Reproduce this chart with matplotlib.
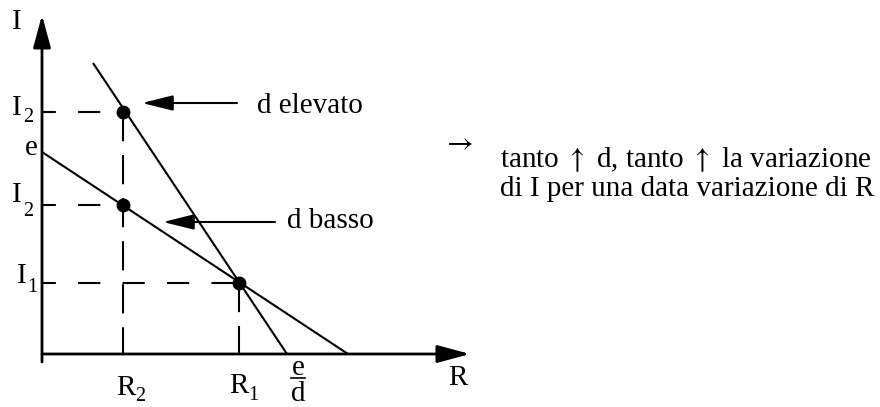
import matplotlib
matplotlib.use("Agg")
import matplotlib.pyplot as plt

plt.rcParams['font.family'] = ['Liberation Serif', 'DejaVu Serif']
plt.rcParams['mathtext.fontset'] = 'stix'
plt.rcParams['lines.scale_dashes'] = False

# values (units: R to the right, I upwards)
R2, R1 = 81, 197
I2_high, e_val, I2_low, I1 = 242, 202, 149, 71

shallow_R = [0, 306]          # d basso: from e down to e/d
shallow_I = [e_val, 0]
steep_R = [51, 245]           # d elevato
steep_I = [291, 0]

point_R = [R2, R2, R1]
point_I = [I2_high, I2_low, I1]

FS = 21

fig = plt.figure(figsize=(8.8, 4.07), dpi=100)
ax = fig.add_axes([0, 0, 1, 1])
ax.set_xlim(-42, 838)
ax.set_ylim(-53, 354)
ax.axis('off')


def sub_label(x, y, main, sub, dx, drop):
    ax.text(x, y, main, fontsize=FS, va='baseline')
    ax.text(x + dx, y - drop, sub, fontsize=FS * 0.7, va='baseline')


# axes with arrow heads
axis_style = dict(arrowstyle='-|>,head_length=20,head_width=5.4',
                  mutation_scale=1, lw=2, color='black', shrinkA=0, shrinkB=0)
ax.annotate('', xy=(0, 339), xytext=(0, -8), arrowprops=axis_style)
ax.annotate('', xy=(428, 0), xytext=(0, 0), arrowprops=axis_style)

# the two lines
ax.plot(shallow_R, shallow_I, color='black', lw=1.5, solid_capstyle='butt')
ax.plot(steep_R, steep_I, color='black', lw=1.5, solid_capstyle='butt')

# dashed guides
hdash = (6, (16, 16))
vdash = (0, (21, 10))
for r, i in zip(point_R, point_I):
    ax.plot([0, r], [i, i], color='black', lw=1.5, linestyle=hdash)
ax.plot([R2, R2], [I2_high, 0], color='black', lw=1.5, linestyle=vdash)
ax.plot([R1, R1], [I1, 0], color='black', lw=1.5, linestyle=vdash)

ax.plot(point_R, point_I, 'o', color='black', markersize=9, zorder=5)

# pointer arrows
ptr = dict(arrowstyle='-|>,head_length=19,head_width=4.7',
           mutation_scale=1, lw=1.5, color='black', shrinkA=0, shrinkB=0)
ax.annotate('', xy=(100, 251), xytext=(195, 251), arrowprops=ptr)
ax.annotate('', xy=(121, 132), xytext=(233, 132), arrowprops=ptr)
ax.text(215, 241, 'd elevato', fontsize=FS, va='baseline')
ax.text(245, 126, 'd basso', fontsize=FS, va='baseline')

# axis labels
ax.text(-30, 325, 'I', fontsize=FS, va='baseline')
ax.text(406, -31, 'R', fontsize=FS, va='baseline')
sub_label(-30, 239, 'I', '2', 11, 7)
ax.text(-17, 199, 'e', fontsize=FS, va='baseline')
sub_label(-30, 152, 'I', '2', 11, 14)
sub_label(-25, 71, 'I', '1', 10, 9)
sub_label(74, -41, 'R', '2', 19, 6)
sub_label(187, -39, 'R', '1', 19, 7)

# e/d written as a stacked fraction
ax.text(256, -21, 'e', fontsize=FS, ha='center', va='baseline')
ax.plot([249, 263], [-24, -24], color='black', lw=1.2)
ax.text(256, -47, 'd', fontsize=FS, ha='center', va='baseline')

# comment on the right
ax.text(416, 211, r'$\rightarrow$', fontsize=FS, ha='center', va='center')
ax.text(458, 187, r'tanto $\uparrow$ d, tanto $\uparrow$ la variazione',
        fontsize=FS, va='baseline')
ax.text(458, 158, 'di I per una data variazione di R', fontsize=FS, va='baseline')

fig.savefig('out.png', dpi=100)
